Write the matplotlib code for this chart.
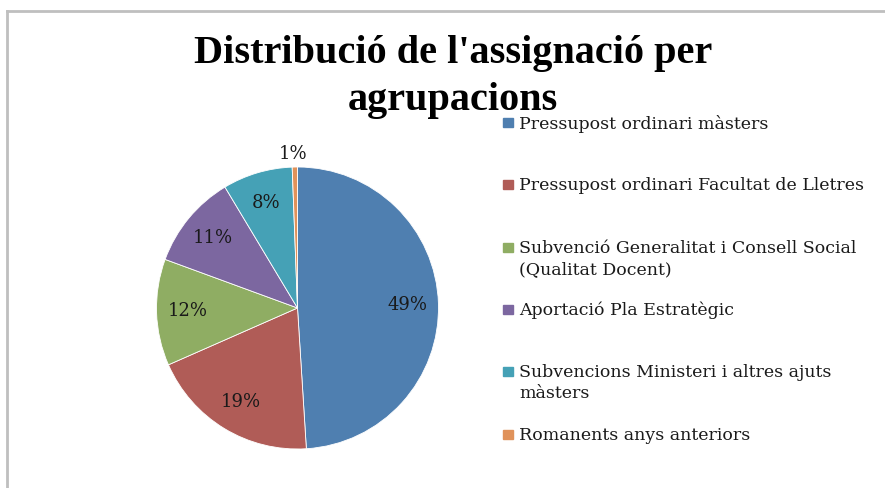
import matplotlib.pyplot as plt
from matplotlib.lines import Line2D
from matplotlib.patches import Rectangle

categories = ['Pressupost ordinari màsters',
              'Pressupost ordinari Facultat de Lletres',
              'Subvenció Generalitat i Consell Social\n(Qualitat Docent)',
              'Aportació Pla Estratègic',
              'Subvencions Ministeri i altres ajuts\nmàsters',
              'Romanents anys anteriors']
shares = [49.0, 19.4, 12.2, 10.8, 8.0, 0.6]
colors = ['#4f7fb0', '#b05c57', '#8fad63', '#7c67a0', '#45a1b6', '#e0925a']
title_lines = ["Distribució de l'assignació per", "agrupacions"]

serif = ['DejaVu Serif']

fig = plt.figure(figsize=(8.85, 4.88), dpi=100)
W, H = 885, 488

# gray frame (top and left edges visible)
fig.add_artist(Line2D([7 / W, 7 / W], [0, 1 - 11 / H], transform=fig.transFigure,
                      color='#bfbfbf', lw=2))
fig.add_artist(Line2D([7 / W, 1], [1 - 11 / H, 1 - 11 / H], transform=fig.transFigure,
                      color='#bfbfbf', lw=2))

for line, base in zip(title_lines, [63, 110]):
    fig.text(453 / W, 1 - base / H, line, ha='center', va='baseline', fontsize=29,
             fontweight='bold', family=['Liberation Serif', 'DejaVu Serif'])

# pie
cx, cy, r = 297.5, 308, 141
ax = fig.add_axes([(cx - r) / W, (H - cy - r) / H, 2 * r / W, 2 * r / H])
wedges, texts, autotexts = ax.pie(shares, colors=colors, startangle=90, counterclock=False,
                                  radius=1, autopct='%1.0f%%', pctdistance=0.78,
                                  textprops=dict(fontsize=13, family=serif, color='#1a1a1a'),
                                  wedgeprops=dict(linewidth=0.6, edgecolor='white'))
autotexts[-1].set_position((-0.03, 1.09))
ax.set_xlim(-1, 1)
ax.set_ylim(-1, 1)
ax.axis('off')

# legend, fixed pitch like the original
for i, (lab, col) in enumerate(zip(categories, colors)):
    ty = 115 + i * 62.3
    fig.add_artist(Rectangle((503 / W, 1 - (ty + 12) / H), 10 / W, 9 / H,
                             transform=fig.transFigure, color=col))
    fig.text(519 / W, 1 - ty / H, lab, ha='left', va='top', fontsize=12.5,
             family=serif, color='#1a1a1a', linespacing=1.32)

fig.savefig('out.png', dpi=100)
